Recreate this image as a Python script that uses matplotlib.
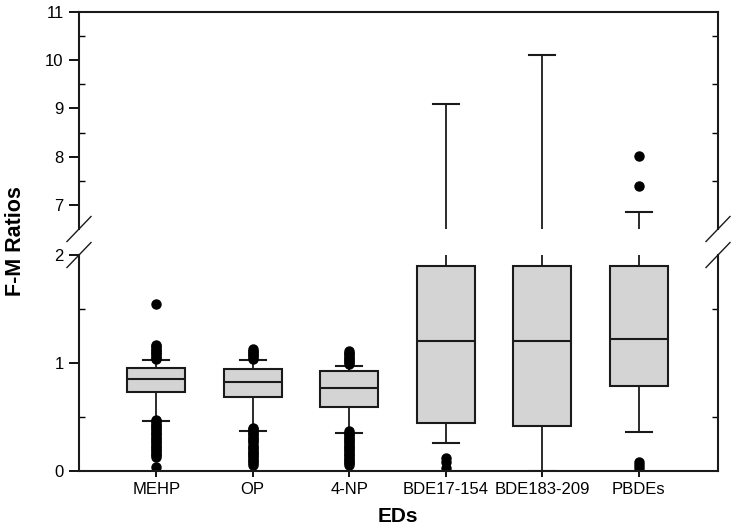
import matplotlib
matplotlib.use("Agg")
import matplotlib.pyplot as plt

plt.rcParams['font.family'] = ['Liberation Sans', 'DejaVu Sans']

categories = ["MEHP", "OP", "4-NP", "BDE17-154", "BDE183-209", "PBDEs"]
q1 = [0.734, 0.682, 0.596, 0.44, 0.417, 0.787]
med = [0.849, 0.82, 0.77, 1.20, 1.20, 1.222]
q3 = [0.95, 0.94, 0.926, 1.90, 1.90, 1.90]
whislo = [0.463, 0.373, 0.349, 0.26, 0.0, 0.36]
whishi = [1.025, 1.025, 0.972, 9.10, 10.10, 6.85]
fliers_mehp = [1.035, 1.05, 1.065, 1.08, 1.095, 1.11, 1.125, 1.14, 1.155, 1.17, 1.543,
               0.475, 0.46, 0.445, 0.43, 0.415, 0.40, 0.385, 0.37, 0.355, 0.34, 0.325,
               0.31, 0.295, 0.28, 0.265, 0.25, 0.235, 0.22, 0.205, 0.19, 0.175, 0.16,
               0.145, 0.13, 0.037]
fliers_op = [1.04, 1.055, 1.07, 1.085, 1.10, 1.115, 1.13,
             0.40, 0.385, 0.37, 0.355, 0.34, 0.325, 0.31, 0.295, 0.28, 0.265,
             0.24, 0.225, 0.21, 0.195, 0.18, 0.165, 0.15, 0.135, 0.12, 0.105, 0.09,
             0.075, 0.06]
fliers_4np = [0.99, 1.005, 1.02, 1.035, 1.05, 1.065, 1.08, 1.095, 1.11,
              0.37, 0.355, 0.34, 0.325, 0.31, 0.295, 0.28, 0.265, 0.25, 0.235,
              0.22, 0.205, 0.19, 0.175, 0.16, 0.145, 0.13, 0.115, 0.10, 0.085, 0.07,
              0.06]
fliers_bde17 = [0.12, 0.085, 0.025]
fliers_bde183 = []
fliers_pbde = [8.02, 7.40, 0.08, 0.055, 0.03]
fliers = [fliers_mehp, fliers_op, fliers_4np, fliers_bde17, fliers_bde183, fliers_pbde]

stats = []
for i, c in enumerate(categories):
    stats.append(dict(label=c, q1=q1[i], med=med[i], q3=q3[i],
                      whislo=whislo[i], whishi=whishi[i], fliers=fliers[i]))

fig = plt.figure(figsize=(7.36, 5.28), dpi=100)
L, R = 79 / 736, 718 / 736
ax_top = fig.add_axes([L, 1 - 229 / 528, R - L, (229 - 12) / 528])
ax_bot = fig.add_axes([L, 1 - 471 / 528, R - L, (471 - 255) / 528])

positions = list(range(1, len(categories) + 1))
for ax in (ax_top, ax_bot):
    ax.bxp(stats, positions=positions, widths=0.6, patch_artist=True,
           showfliers=True,
           boxprops=dict(facecolor='#d4d4d4', edgecolor='#1a1a1a', linewidth=1.5),
           medianprops=dict(color='#1a1a1a', linewidth=1.5),
           whiskerprops=dict(color='#1a1a1a', linewidth=1.3),
           capprops=dict(color='#1a1a1a', linewidth=1.5),
           capwidths=0.27,
           flierprops=dict(marker='o', markerfacecolor='black', markeredgecolor='black',
                           markersize=6.5, linestyle='none'))
    ax.set_xlim(0.2, 6.82)
    for s in ax.spines.values():
        s.set_linewidth(1.5)
        s.set_color('#1a1a1a')

ax_top.set_ylim(6.5, 11)
ax_top.set_yticks([7, 8, 9, 10, 11])
ax_top.set_yticks([7.5, 8.5, 9.5, 10.5], minor=True)
ax_top.spines['bottom'].set_visible(False)
ax_top.tick_params(axis='x', bottom=False, labelbottom=False)

ax_bot.set_ylim(0, 2)
ax_bot.set_yticks([0, 1, 2])
ax_bot.set_yticklabels(['0', '1', '2'])
ax_bot.set_yticks([0.5, 1.5], minor=True)
ax_bot.spines['top'].set_visible(False)
ax_bot.set_xticks(positions)
ax_bot.set_xticklabels(categories)
ax_bot.tick_params(axis='x', direction='out', length=4, width=1.3, labelsize=12, pad=4)

for ax in (ax_top, ax_bot):
    ax.tick_params(axis='y', which='major', direction='out', length=7, width=1.3,
                   labelsize=12, left=True, right=False, pad=4)
    ax.tick_params(axis='y', which='minor', direction='in', length=4, width=1.0,
                   left=True, right=True)

# break marks
def slash(xc, yc):
    fig.add_artist(plt.Line2D([xc - 12 / 736, xc + 12 / 736],
                              [1 - (yc + 12.5) / 528, 1 - (yc - 12.5) / 528],
                              color='#1a1a1a', linewidth=1.0, transform=fig.transFigure,
                              clip_on=False))

for xp in (79, 718):
    slash(xp / 736, 229)
    slash(xp / 736, 255)

fig.text(16 / 736, 1 - 241 / 528, "F-M Ratios", rotation=90, fontsize=15.5,
         fontweight='bold', ha='center', va='center')
fig.text(398 / 736, 1 - 516 / 528, "EDs", fontsize=15, fontweight='bold',
         ha='center', va='center')

fig.savefig("out.png", dpi=100)
